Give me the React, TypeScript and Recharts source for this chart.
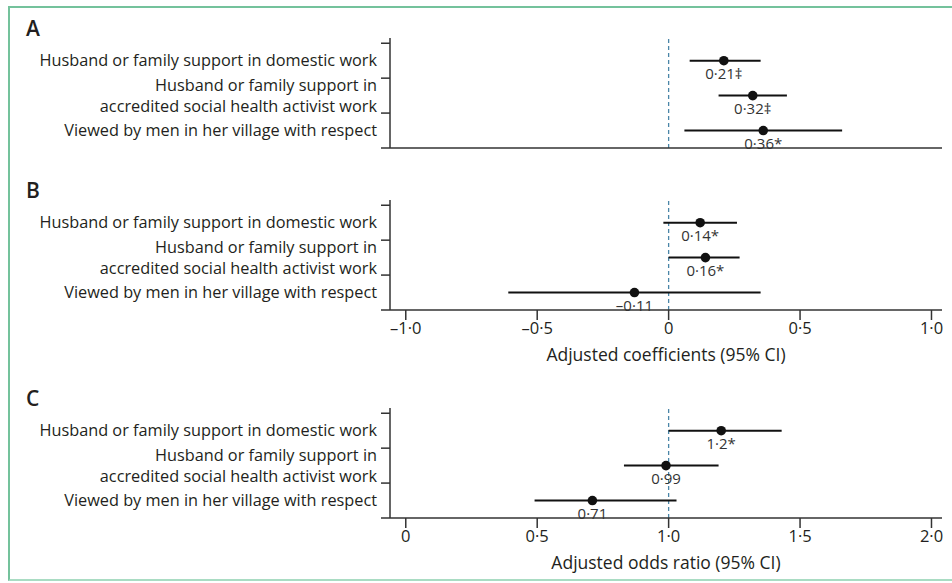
import {
  ComposedChart,
  Scatter,
  ErrorBar,
  XAxis,
  YAxis,
  ReferenceLine,
  Label,
} from "recharts";

// rows, top to bottom
const categories = [
  "Husband or family support in domestic work",
  "Husband or family support in\naccredited social health activist work",
  "Viewed by men in her village with respect",
];

// A: coefficients
const aEst = [0.21, 0.32, 0.36];
const aLow = [0.08, 0.19, 0.06];
const aHigh = [0.35, 0.45, 0.66];
const aText = ["0·21‡", "0·32‡", "0·36*"];

// B: coefficients
const bEst = [0.12, 0.14, -0.13];
const bLow = [-0.02, 0.0, -0.61];
const bHigh = [0.26, 0.27, 0.35];
const bText = ["0·14*", "0·16*", "–0·11"];

// C: odds ratios
const cEst = [1.2, 0.99, 0.71];
const cLow = [1.0, 0.83, 0.49];
const cHigh = [1.43, 1.19, 1.03];
const cText = ["1·2*", "0·99", "0·71"];

const coefTicks = [-1, -0.5, 0, 0.5, 1];
const oddsTicks = [0, 0.5, 1, 1.5, 2];
const rowTicks = [0, 0.5, 1, 1.5, 2, 2.5, 3];

const FONT = "'Open Sans', 'Noto Sans', sans-serif";
const INK = "#231f20";

const fmt = (v: number) =>
  v === 0 ? "0" : v.toFixed(1).replace(".", "·").replace("-", "–");

function buildRows(est: number[], low: number[], high: number[], text: string[]) {
  return est.map((e, i) => ({
    est: e,
    pos: categories.length - i - 0.5,
    err: [e - low[i], high[i] - e],
    text: text[i],
  }));
}

function RowTick(props: any) {
  const { x, y, payload } = props;
  const v = payload.value as number;
  if (Number.isInteger(v)) {
    return <line x1={x + 4} x2={x + 13} y1={y} y2={y} stroke="#333" strokeWidth={1.5} />;
  }
  const idx = categories.length - 0.5 - v;
  const lines = categories[idx].split("\n");
  return (
    <text x={x} y={y} textAnchor="end" fill={INK} fontSize={16.3} fontFamily={FONT}>
      {lines.map((l, i) => (
        <tspan key={i} x={x} dy={i === 0 ? (lines.length === 1 ? 5.5 : -5) : 21}>
          {l}
        </tspan>
      ))}
    </text>
  );
}

function Point(props: any) {
  const { cx, cy, payload } = props;
  return (
    <g>
      <circle cx={cx} cy={cy} r={4.8} fill="#111" />
      <text x={cx} y={cy + 18} textAnchor="middle" fill="#333" fontSize={15} fontFamily={FONT}>
        {payload.text}
      </text>
    </g>
  );
}

interface PanelProps {
  top: number;
  letter: string;
  rows: ReturnType<typeof buildRows>;
  domain: [number, number];
  ticks: number[];
  ref0: number;
  showTicks: boolean;
  title?: string;
}

function Panel({ top, letter, rows, domain, ticks, ref0, showTicks, title }: PanelProps) {
  return (
    <div style={{ position: "absolute", left: 0, top, width: 952, height: 212 }}>
      <div
        style={{
          position: "absolute",
          left: 26,
          top: 15,
          fontFamily: FONT,
          fontSize: 21,
          fontWeight: 600,
          lineHeight: "26px",
          color: INK,
        }}
      >
        {letter}
      </div>
      <ComposedChart
        width={952}
        height={212}
        data={rows}
        margin={{ top: 38, right: 10, bottom: 2, left: 0 }}
      >
        <XAxis
          type="number"
          dataKey="est"
          domain={domain}
          ticks={ticks}
          tickFormatter={fmt}
          allowDataOverflow
          height={62}
          tickSize={10}
          tickMargin={2}
          tick={showTicks ? { fontSize: 16.5, fill: INK, fontFamily: FONT } : false}
          axisLine={{ stroke: "#333", strokeWidth: 1.5 }}
          tickLine={{ stroke: "#333", strokeWidth: 1.5 }}
        >
          {title && (
            <Label
              value={title}
              position="insideBottom"
              offset={11}
              style={{ fontSize: 17.5, fill: INK, fontFamily: FONT }}
            />
          )}
        </XAxis>
        <YAxis
          type="number"
          dataKey="pos"
          domain={[0, 3.15]}
          ticks={rowTicks}
          interval={0}
          width={390}
          tickSize={9}
          tickMargin={4}
          tickLine={false}
          tick={<RowTick />}
          axisLine={{ stroke: "#333", strokeWidth: 1.5 }}
        />
        <ReferenceLine x={ref0} stroke="#4a86a8" strokeDasharray="4 3" strokeWidth={1.3} />
        <Scatter dataKey="pos" shape={<Point />} isAnimationActive={false}>
          <ErrorBar dataKey="err" direction="x" width={0} stroke="#111" strokeWidth={2} />
        </Scatter>
      </ComposedChart>
    </div>
  );
}

export default function App() {
  return (
    <div style={{ position: "absolute", left: 0, top: 0, width: 952, height: 583, background: "#fff", overflow: "hidden" }}>
      <div
        style={{
          position: "absolute",
          left: 8,
          top: 6,
          width: 944,
          height: 575,
          borderTop: "2px solid #74c29c",
          borderLeft: "2px solid #74c29c",
          borderBottom: "2px solid #a9dcc3",
          boxSizing: "border-box",
        }}
      />
      <Panel
        top={0}
        letter="A"
        rows={buildRows(aEst, aLow, aHigh, aText)}
        domain={[-1.06, 1.04]}
        ticks={coefTicks}
        ref0={0}
        showTicks={false}
      />
      <Panel
        top={162}
        letter="B"
        rows={buildRows(bEst, bLow, bHigh, bText)}
        domain={[-1.06, 1.04]}
        ticks={coefTicks}
        ref0={0}
        showTicks
        title="Adjusted coefficients (95% CI)"
      />
      <Panel
        top={370}
        letter="C"
        rows={buildRows(cEst, cLow, cHigh, cText)}
        domain={[-0.06, 2.04]}
        ticks={oddsTicks}
        ref0={1}
        showTicks
        title="Adjusted odds ratio (95% CI)"
      />
    </div>
  );
}
